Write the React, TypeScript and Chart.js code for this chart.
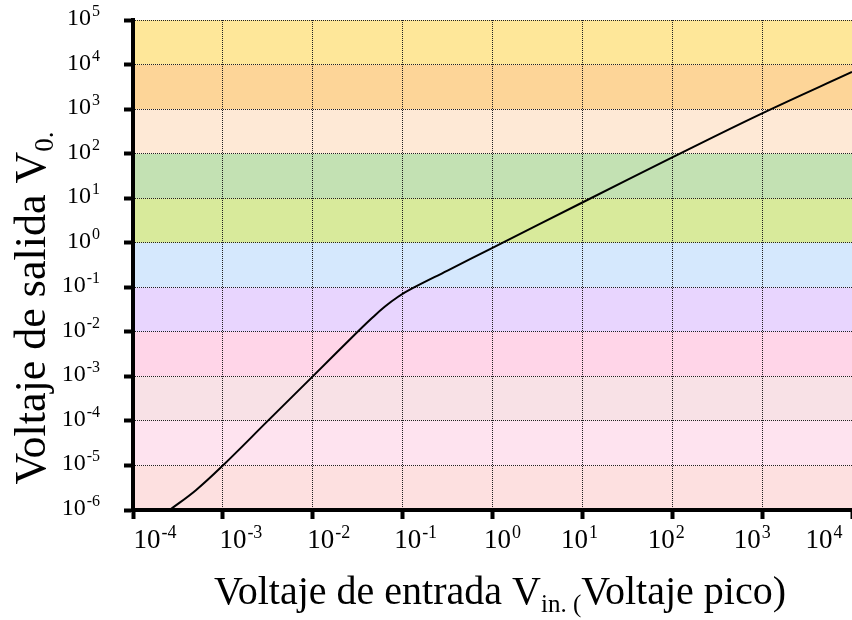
import { useEffect, useRef } from 'react';
import { Chart, registerables } from 'chart.js';

Chart.register(...registerables);

// Peak input voltage (V) and the resulting output voltage (V) along the response curve
const vinPeak = [2.55e-4, 5.01e-4, 1e-3, 3.16e-3, 1e-2, 3.16e-2, 4.47e-2, 6.31e-2, 8.91e-2, 0.126, 0.316, 1, 10, 100, 1000, 1e4];
const voutLevel = [1e-6, 2.79e-6, 1e-5, 1e-4, 1e-3, 1e-2, 1.96e-2, 3.65e-2, 6.13e-2, 9.28e-2, 0.237, 0.767, 8, 82, 800, 6800];

// Decade exponents used for the axis ticks
const xDecades = [-4, -3, -2, -1, 0, 1, 2, 3, 4];
const yDecades = [-6, -5, -4, -3, -2, -1, 0, 1, 2, 3, 4, 5];

// Background band for each output decade, lowest first (1e-6..1e-5 up to 1e4..1e5)
const bandColors = [
  '#fde0e0',
  '#fee3ef',
  '#f8e1e6',
  '#ffd5e8',
  '#e8d5fe',
  '#d5e8fd',
  '#d8ea9b',
  '#c3e1b3',
  '#fee9d6',
  '#fdd598',
  '#fee799',
];

const xTitleMain = 'Voltaje de entrada V';
const xTitleSub = 'in. (';
const xTitleTail = 'Voltaje pico)';
const yTitleMain = 'Voltaje de salida V';
const yTitleSub = '0.';

const SERIF = "'Liberation Serif', 'Times New Roman', serif";

// Horizontal shift of each x tick label relative to its tick
const xLabelNudge = [22, 18, 16, 13, 10, -3, -6, -10, -28];

const decade = (d: number) => Number('1e' + d);

function drawPower(
  ctx: CanvasRenderingContext2D,
  exp: number,
  x: number,
  baseline: number,
  align: 'right' | 'center',
  baseSize: number,
  supSize: number,
  raise: number,
) {
  const base = '10';
  const sup = String(exp);
  ctx.font = `${baseSize}px ${SERIF}`;
  const wb = ctx.measureText(base).width;
  ctx.font = `${supSize}px ${SERIF}`;
  const ws = ctx.measureText(sup).width;
  const total = wb + ws + 1;
  const start = align === 'right' ? x - total : x - total / 2;
  ctx.textAlign = 'left';
  ctx.textBaseline = 'alphabetic';
  ctx.font = `${baseSize}px ${SERIF}`;
  ctx.fillText(base, start, baseline);
  ctx.font = `${supSize}px ${SERIF}`;
  ctx.fillText(sup, start + wb + 1, baseline - raise);
}

const bandsPlugin = {
  id: 'decadeBands',
  beforeDraw(chart: any) {
    const { ctx, chartArea, scales } = chart;
    const y = scales.y;
    ctx.save();
    for (let i = 0; i < bandColors.length; i++) {
      const top = y.getPixelForValue(decade(yDecades[i + 1]));
      const bottom = y.getPixelForValue(decade(yDecades[i]));
      ctx.fillStyle = bandColors[i];
      ctx.fillRect(chartArea.left, top, chartArea.right - chartArea.left, bottom - top);
    }
    ctx.restore();
  },
};

const labelsPlugin = {
  id: 'powerLabels',
  afterDraw(chart: any) {
    const { ctx, scales } = chart;
    const xs = scales.x;
    const ys = scales.y;
    ctx.save();
    ctx.fillStyle = '#000';

    // y tick labels, right aligned
    yDecades.forEach((d) => {
      const py = ys.getPixelForValue(decade(d));
      drawPower(ctx, d, 100, py + 5, 'right', 24, 16, 9);
    });

    // x tick labels
    xDecades.forEach((d, i) => {
      const px = xs.getPixelForValue(decade(d));
      drawPower(ctx, d, px + xLabelNudge[i], 548, 'center', 27, 18, 10);
    });

    // x axis title with subscript
    const mainSize = 40;
    const subSize = 25;
    ctx.font = `${mainSize}px ${SERIF}`;
    const w1 = ctx.measureText(xTitleMain).width;
    const w3 = ctx.measureText(xTitleTail).width;
    ctx.font = `${subSize}px ${SERIF}`;
    const w2 = ctx.measureText(xTitleSub).width;
    const totalX = w1 + w2 + w3;
    let sx = 500 - totalX / 2;
    ctx.textAlign = 'left';
    ctx.textBaseline = 'alphabetic';
    ctx.font = `${mainSize}px ${SERIF}`;
    ctx.fillText(xTitleMain, sx, 604);
    sx += w1;
    ctx.font = `${subSize}px ${SERIF}`;
    ctx.fillText(xTitleSub, sx, 612);
    sx += w2;
    ctx.font = `${mainSize}px ${SERIF}`;
    ctx.fillText(xTitleTail, sx, 604);

    // y axis title, rotated, with subscript
    const ySize = 44;
    const ySub = 27;
    ctx.font = `${ySize}px ${SERIF}`;
    const yw1 = ctx.measureText(yTitleMain).width;
    ctx.font = `${ySub}px ${SERIF}`;
    const yw2 = ctx.measureText(yTitleSub).width;
    const totalY = yw1 + yw2;
    ctx.translate(45, 308);
    ctx.rotate(-Math.PI / 2);
    ctx.font = `${ySize}px ${SERIF}`;
    ctx.fillText(yTitleMain, -totalY / 2, 0);
    ctx.font = `${ySub}px ${SERIF}`;
    ctx.fillText(yTitleSub, -totalY / 2 + yw1, 8);
    ctx.restore();
  },
};

export default function App() {
  const canvasRef = useRef<HTMLCanvasElement | null>(null);

  useEffect(() => {
    const canvas = canvasRef.current;
    if (!canvas) return;

    const gridCommon = {
      color: '#222',
      lineWidth: 1,
      tickColor: '#000',
      tickWidth: 4,
      tickLength: 9,
      drawTicks: true,
    };

    const chart = new Chart(canvas, {
      type: 'line',
      data: {
        datasets: [
          {
            data: vinPeak.map((v, i) => ({ x: v, y: voutLevel[i] })),
            borderColor: '#000',
            borderWidth: 2,
            pointRadius: 0,
            fill: false,
            tension: 0.4,
          },
        ],
      },
      options: {
        responsive: false,
        animation: false,
        layout: { padding: { top: 20, right: 0, left: 0, bottom: 0 } },
        plugins: {
          legend: { display: false },
          tooltip: { enabled: false },
        },
        scales: {
          x: {
            type: 'logarithmic',
            min: decade(xDecades[0]),
            max: decade(xDecades[xDecades.length - 1]),
            afterBuildTicks: (scale: any) => {
              scale.ticks = xDecades.map((d) => ({ value: decade(d) }));
            },
            afterFit: (scale: any) => {
              scale.height = 110;
            },
            ticks: { display: false },
            grid: gridCommon,
            border: { display: true, width: 4, color: '#000', dash: [1, 1] },
          },
          y: {
            type: 'logarithmic',
            min: decade(yDecades[0]),
            max: decade(yDecades[yDecades.length - 1]),
            afterBuildTicks: (scale: any) => {
              scale.ticks = yDecades.map((d) => ({ value: decade(d) }));
            },
            afterFit: (scale: any) => {
              scale.width = 133;
            },
            ticks: { display: false },
            grid: gridCommon,
            border: { display: true, width: 4, color: '#000', dash: [1, 1] },
          },
        },
      } as any,
      plugins: [bandsPlugin, labelsPlugin],
    });

    return () => chart.destroy();
  }, []);

  return (
    <div style={{ position: 'fixed', left: 0, top: 0, width: 852, height: 620, background: '#fff' }}>
      <canvas ref={canvasRef} width={852} height={620} style={{ display: 'block' }} />
    </div>
  );
}
